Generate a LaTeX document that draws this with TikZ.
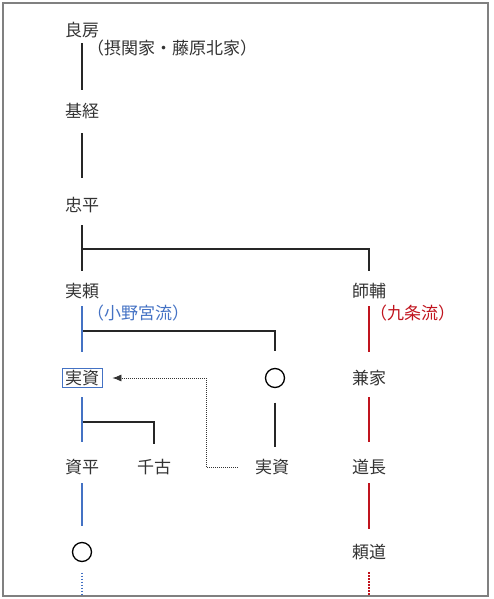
\documentclass[tikz,border=0pt]{standalone}
\usepackage{fontspec}
\setmainfont{Noto Sans CJK JP}
\usetikzlibrary{arrows.meta}
\definecolor{onoblue}{RGB}{68,114,196}
\definecolor{kujored}{RGB}{192,20,30}

\begin{document}
\begin{tikzpicture}[x=1pt, y=-1pt,
  person/.style={inner sep=0pt, minimum height=16pt, text=black!80, font=\fontsize{17}{17}\selectfont},
  note/.style={anchor=west, inner sep=0pt, font=\fontsize{17}{17}\selectfont},
  maru/.style={draw, circle, line width=1.3pt, minimum size=19pt, inner sep=0pt},
  kei/.style={line width=1.5pt, black!85},
  ono/.style={line width=1.5pt, onoblue},
  kujo/.style={line width=1.5pt, kujored}
]
\useasboundingbox (0,0) rectangle (494,599);
\draw[gray, line width=1.2pt] (3,3) rectangle (488,596);

\node[person] (yoshifusa) at (82,30) {良房};
\node[note, text=black!80] (sekkan) at (87,48) {（摂関家・藤原北家）};
\node[person] (mototsune) at (82,111) {基経};
\node[person] (tadahira) at (82,205) {忠平};
\node[person] (saneyori) at (82,291) {実頼};
\node[person] (morosuke) at (369,291) {師輔};
\node[note, text=onoblue] (ono) at (87,313) {（小野宮流）};
\node[note, text=kujored] (kujo) at (370,313) {（九条流）};
\node[person, draw=onoblue, line width=0.8pt, inner xsep=3pt, inner ysep=2pt] (sanesuke) at (82,378) {実資};
\node[maru] (maru1) at (275,378) {};
\node[person] (kaneie) at (369,378) {兼家};
\node[person] (sukehira) at (82,467) {資平};
\node[person] (chiko) at (154,467) {千古};
\node[person] (sanesuke2) at (272,467) {実資};
\node[person] (michinaga) at (369,467) {道長};
\node[maru] (maru2) at (82,552) {};
\node[person] (yorimichi) at (369,552) {頼道};

\coordinate (b1) at (82,249);
\coordinate (b2) at (82,331);
\coordinate (b3) at (82,422);
\coordinate (kado) at (206,378);
\coordinate (end1) at (82,596);
\coordinate (end2) at (369,596);

% lines
\draw[kei, shorten <=5pt, shorten >=13pt] (yoshifusa) -- (mototsune);
\draw[kei, shorten <=14pt, shorten >=19pt] (mototsune) -- (tadahira);
\draw[kei, shorten <=12pt, shorten >=12pt] (tadahira) -- (saneyori);
\draw[kei, line width=1.2pt, shorten >=12pt] (b1) -| (morosuke);
\draw[kei, line width=1.2pt, shorten >=16.5pt] (b2) -| (maru1);
\draw[kei, line width=1.2pt, shorten >=15pt] (b3) -| (chiko);
\draw[ono, shorten <=7pt, shorten >=16pt] (saneyori) -- (sanesuke);
\draw[ono, shorten <=9pt, shorten >=17pt] (sanesuke) -- (sukehira);
\draw[ono, shorten <=8pt, shorten >=15.5pt] (sukehira) -- (maru2);
\draw[kujo, shorten <=7pt, shorten >=18pt] (morosuke) -- (kaneie);
\draw[kujo, shorten <=11pt, shorten >=17pt] (kaneie) -- (michinaga);
\draw[kujo, shorten <=8pt, shorten >=15pt] (michinaga) -- (yorimichi);
\draw[kei, shorten <=14.5pt, shorten >=12pt] (maru1) -- (maru1 |- sanesuke2.north);
\draw[ono, dash pattern=on 1.5pt off 1.5pt, shorten <=10.5pt] (maru2) -- (end1);
\draw[kujo, dash pattern=on 1.5pt off 1.5pt, shorten <=12pt] (yorimichi) -- (end2);
\draw[black!80, line width=0.8pt, dash pattern=on 1pt off 1pt, shorten <=17pt, shorten >=10pt, -{Latex[length=9pt, width=7pt]}]
  (sanesuke2.west) -| (kado) -- (sanesuke.east);
\end{tikzpicture}
\end{document}
